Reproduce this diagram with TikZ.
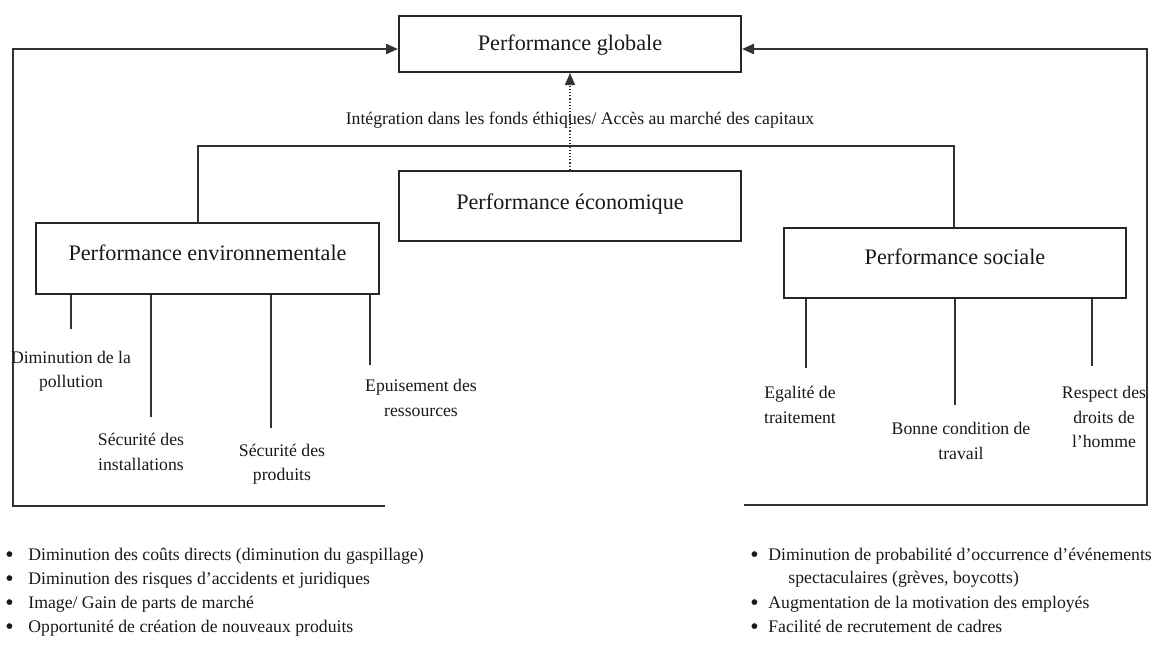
\documentclass[tikz,border=0pt]{standalone}
\usepackage{fontspec}
\setmainfont{Liberation Serif}
\usetikzlibrary{arrows.meta}
\newcommand{\bigbul}{\raisebox{-0.12em}{\scalebox{1.35}{\textbullet}}}
\begin{document}
\begin{tikzpicture}[x=0.5pt,y=-0.5pt,
  box/.style={draw=black!85, line width=1pt, inner sep=0pt, minimum width=171pt,
    font=\fontsize{11.1}{13}\selectfont, text=black!90, text height=7.4pt},
  lbl/.style={align=center, font=\fontsize{8.85}{12.2}\selectfont, text=black!90, inner sep=0pt},
  item/.style={anchor=mid west, font=\fontsize{8.85}{11.85}\selectfont, text=black!90, inner sep=0pt},
  conn/.style={draw=black!80, line width=0.8pt},
  loopline/.style={draw=black!80, line width=1.1pt},
  tip/.style={-{Triangle[length=6pt,width=5pt]}}]

\useasboundingbox (0,0) rectangle (1152,644);

% boxes
\node[box, minimum height=28pt, text depth=0.5pt] (glob) at (570,44) {Performance globale};
\node[box, minimum height=35pt, text depth=4pt] (eco) at (570,206) {Performance économique};
\node[box, minimum width=171.5pt, minimum height=35.5pt, text depth=5pt] (env) at (207.5,258.5) {Performance environnementale};
\node[box, minimum height=35pt, text depth=5.5pt] (soc) at (955,263) {Performance sociale};

% dotted arrow and caption
\draw[conn, line width=0.6pt, densely dotted, tip] (eco.north) -- (glob.south);
\node[lbl] (integ) at (580,120) {Intégration dans les fonds éthiques/ Accès au marché des capitaux};

% top connector between env and soc
\coordinate (tl) at (198,146);
\coordinate (tr) at (954,146);
\draw[conn] (env.north -| tl) -- (tl) -- (tr) -- (soc.north -| tr);

% big loops to global performance
\coordinate (lb) at (385,506);
\coordinate (lc) at (13,506);
\coordinate (lt) at (13,49);
\draw[loopline, tip] (lb) -- (lc) -- (lt) -- (glob.west |- lt);
\coordinate (rb) at (744,505);
\coordinate (rc) at (1147,505);
\coordinate (rt) at (1147,49);
\draw[loopline, tip] (rb) -- (rc) -- (rt) -- (glob.east |- rt);

% environmental branches
\coordinate (e1) at (71,329);
\coordinate (e2) at (151,417);
\coordinate (e3) at (271,428);
\coordinate (e4) at (370,365);
\draw[conn] (env.south -| e1) -- (e1);
\draw[conn] (env.south -| e2) -- (e2);
\draw[conn] (env.south -| e3) -- (e3);
\draw[conn] (env.south -| e4) -- (e4);
\node[lbl] (l1) at (71,371) {Diminution de la\\pollution};
\node[lbl] (l2) at (141,452) {Sécurité des\\installations};
\node[lbl] (l3) at (282,464) {Sécurité des\\produits};
\node[lbl] (l4) at (421,398) {Epuisement des\\ressources};

% social branches
\coordinate (s1) at (806,368);
\coordinate (s2) at (955,405);
\coordinate (s3) at (1092,366);
\draw[conn] (soc.south -| s1) -- (s1);
\draw[conn] (soc.south -| s2) -- (s2);
\draw[conn] (soc.south -| s3) -- (s3);
\node[lbl] (r1) at (800,405) {Egalité de\\traitement};
\node[lbl] (r2) at (961,441) {Bonne condition de\\travail};
\node[lbl] (r3) at (1104,417) {Respect des\\droits de\\l’homme};

% bullet lists
\node[item] (b1) at (5,556) {\makebox[11.5pt][l]{\bigbul}Diminution des coûts directs (diminution du gaspillage)};
\node[item] (b2) at (5,580) {\makebox[11.5pt][l]{\bigbul}Diminution des risques d’accidents et juridiques};
\node[item] (b3) at (5,604) {\makebox[11.5pt][l]{\bigbul}Image/ Gain de parts de marché};
\node[item] (b4) at (5,628) {\makebox[11.5pt][l]{\bigbul}Opportunité de création de nouveaux produits};

\node[item] (c1) at (750,556) {\makebox[9pt][l]{\bigbul}Diminution de probabilité d’occurrence d’événements};
\node[item] (c1b) at (788,579) {spectaculaires (grèves, boycotts)};
\node[item] (c2) at (750,604) {\makebox[9pt][l]{\bigbul}Augmentation de la motivation des employés};
\node[item] (c3) at (750,628) {\makebox[9pt][l]{\bigbul}Facilité de recrutement de cadres};
\end{tikzpicture}
\end{document}
